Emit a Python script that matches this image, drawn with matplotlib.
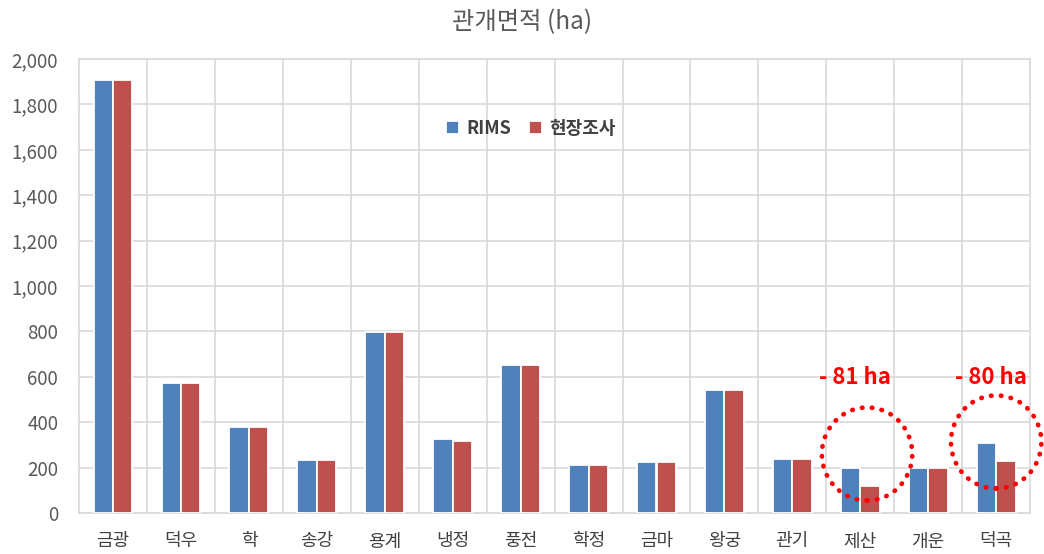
import matplotlib
matplotlib.use("Agg")
import matplotlib.pyplot as plt
import numpy as np
from matplotlib.patches import Ellipse
from matplotlib.ticker import FuncFormatter, MultipleLocator

plt.rcParams["font.family"] = ["Noto Sans CJK KR", "DejaVu Sans"]

# data
districts = ["금광", "덕우", "학", "송강", "용계", "냉정", "풍전",
             "학정", "금마", "왕궁", "관기", "제산", "개운", "덕곡"]
rims = [1907, 571, 377, 232, 798, 327, 654, 210, 226, 543, 238, 200, 200, 309]
survey = [1907, 571, 377, 232, 798, 316, 654, 210, 226, 543, 238, 119, 200, 229]
series_names = ["RIMS", "현장조사"]

# highlighted districts and their difference labels
marked = ["제산", "덕곡"]
marked_labels = ["- 81 ha", "- 80 ha"]
circle_dx = [0.1, 0.0]
circle_y = [260, 313]

BLUE = "#4F81BD"
RED = "#C0504D"
GRID = "#D9D9D9"
TEXT = "#595959"

fig = plt.figure(figsize=(10.44, 5.54), dpi=100)
fig.patch.set_facecolor("white")
ax = fig.add_axes([0.0757, 0.074, 0.911, 0.8195])

x = np.arange(len(districts))
w = 0.285
ax.bar(x - 0.143, rims, width=w, color=BLUE, edgecolor="white", linewidth=1.3,
       label=series_names[0], zorder=3)
ax.bar(x + 0.143, survey, width=w, color=RED, edgecolor="white", linewidth=1.3,
       label=series_names[1], zorder=3)

ax.set_xlim(-0.5, len(districts) - 0.5)
ax.set_ylim(0, 2000)
ax.yaxis.set_major_locator(MultipleLocator(200))
ax.yaxis.set_major_formatter(FuncFormatter(lambda v, p: f"{int(v):,}"))
ax.set_xticks(x)
ax.set_xticklabels(districts)
ax.set_xticks(x[:-1] + 0.5, minor=True)

ax.grid(axis="y", color=GRID, linewidth=1.2, zorder=0)
ax.grid(axis="x", which="minor", color=GRID, linewidth=1.2, zorder=0)
ax.tick_params(axis="both", which="both", length=0)
ax.tick_params(axis="y", labelsize=13.5, labelcolor=TEXT, pad=15)
ax.tick_params(axis="x", labelsize=13, labelcolor="#404040", pad=14)
for s in ax.spines.values():
    s.set_color(GRID)
    s.set_linewidth(1.2)

leg = ax.legend(loc="center", bbox_to_anchor=(0.475, 0.848), ncol=2,
                frameon=False, handlelength=0.7, handleheight=0.7,
                handletextpad=0.4, columnspacing=1.0,
                prop={"size": 13, "weight": "bold"})
for t in leg.get_texts():
    t.set_color("#404040")

fig.suptitle("관개면적 (ha)", x=0.5, y=0.983, fontsize=17.5, color=TEXT)

# dotted circles and difference labels
for k, (name, lab) in enumerate(zip(marked, marked_labels)):
    i = districts.index(name)
    el = Ellipse((i + circle_dx[k], circle_y[k]), width=1.33, height=410,
                 fill=False, edgecolor="red", linewidth=3.4,
                 linestyle=(0, (0.1, 2.0)), capstyle="round",
                 clip_on=False, zorder=5)
    ax.add_patch(el)
    ax.text(i - 0.08, 596, lab, color="red", fontsize=16, fontweight="bold",
            ha="center", va="center", zorder=6)

fig.savefig("out.png", dpi=100, facecolor="white")
